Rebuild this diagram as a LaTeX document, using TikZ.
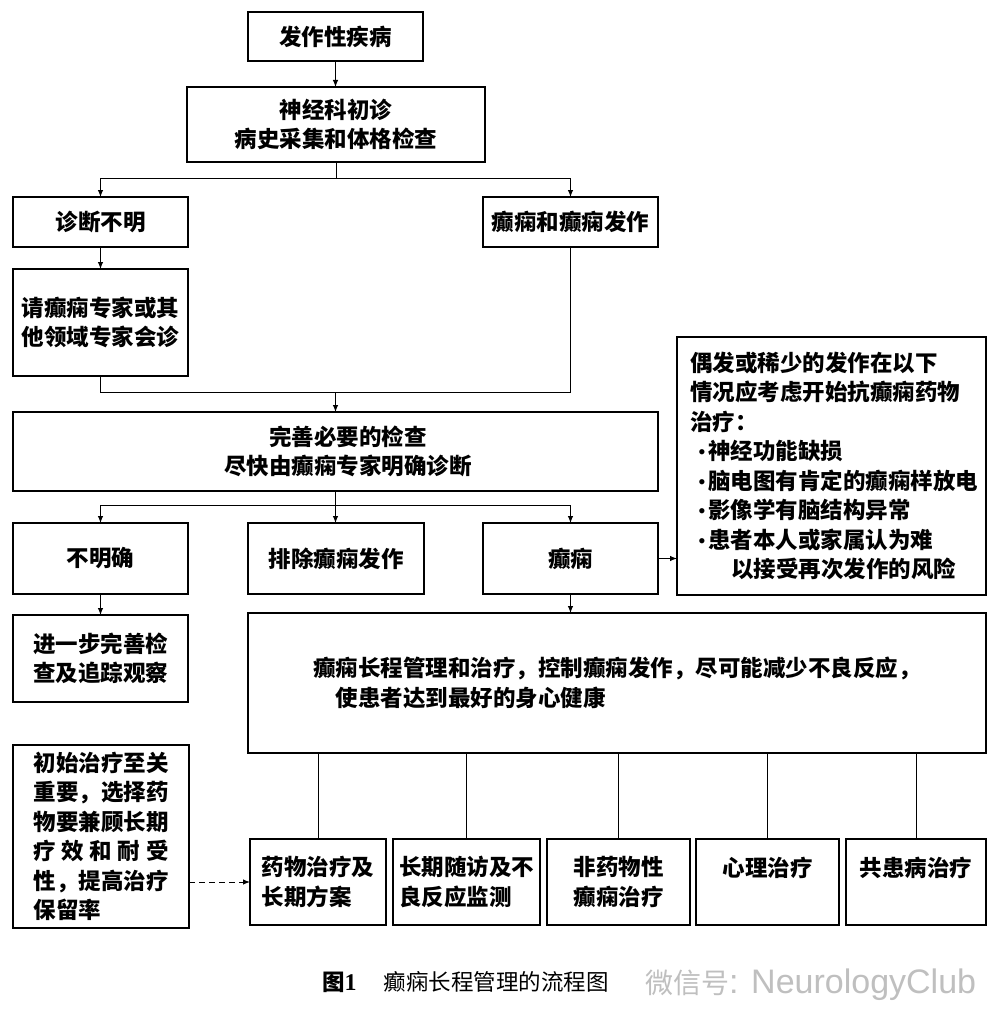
\documentclass[tikz,border=0pt]{standalone}
\usepackage{fontspec}
\setmainfont{Liberation Serif}
\newfontfamily\cjk{Noto Sans CJK SC}
\newfontfamily\wmfont{Liberation Sans}
\usetikzlibrary{arrows.meta,calc}
\begin{document}
\begin{tikzpicture}[x=1pt,y=-1pt,
  box/.style={draw, line width=1.4pt, inner sep=0pt, outer sep=0pt, anchor=north west,
    font=\cjk\bfseries\fontsize{22.5}{29.5}\selectfont, align=center},
  conn/.style={line width=1pt},
  arr/.style={conn, -{Latex[length=7pt,width=5.5pt]}},
]
\useasboundingbox[fill=white] (0,0) rectangle (997,1030);
\newcommand\bulx{\hspace*{8pt}\makebox[10pt][l]{\fontsize{22}{22}\selectfont\rmfamily\mdseries\textbullet}}
% row 1-2
\node[box, minimum width=175, minimum height=49] (n1) at (248,12) {发作性疾病};
\node[box, minimum width=298, minimum height=75] (n2) at (187,87) {神经科初诊\\病史采集和体格检查};
\node[box, minimum width=175, minimum height=50] (n3) at (13,197) {诊断不明};
\node[box, minimum width=175, minimum height=50] (n4) at (483,197) {癫痫和癫痫发作};
\node[box, minimum width=175, minimum height=107] (n5) at (13,269) {请癫痫专家或其\\他领域专家会诊};
\node[box, minimum width=645, minimum height=79] (n6) at (13,412) {\hspace*{25pt}完善必要的检查\\\hspace*{25pt}尽快由癫痫专家明确诊断};
\node[box, minimum width=175, minimum height=71] (n7) at (13,523) {不明确};
\node[box, minimum width=176, minimum height=71] (n8) at (248,523) {排除癫痫发作};
\node[box, minimum width=175, minimum height=71] (n9) at (483,523) {癫痫};
\node[box, minimum width=309, minimum height=258, align=left, text width=283] (n10) at (677,337)
  {偶发或稀少的发作在以下\\情况应考虑开始抗癫痫药物\\治疗：\\\bulx 神经功能缺损\\\bulx 脑电图有肯定的癫痫样放电\\\bulx 影像学有脑结构异常\\\bulx 患者本人或家属认为难\\\hspace*{41pt}以接受再次发作的风险};
\node[box, minimum width=175, minimum height=87] (n11) at (13,615) {进一步完善检\\查及追踪观察};
\node[box, minimum width=738, minimum height=140, align=left, text width=608] (n12) at (248,613)
  {癫痫长程管理和治疗，控制癫痫发作，尽可能减少不良反应，\\\hspace*{1em}使患者达到最好的身心健康};
\node[box, minimum width=176, minimum height=183, align=left] (n13) at (13,745)
  {初始治疗至关\\重要，选择药\\物要兼顾长期\\\makebox[6em][s]{疗\hfill 效\hfill 和\hfill 耐\hfill 受}\\性，提高治疗\\保留率};
\node[box, minimum width=136, minimum height=86, align=left] (b1) at (250,839) {药物治疗及\\长期方案};
\node[box, minimum width=147, minimum height=86, align=left] (b2) at (393,839) {长期随访及不\\良反应监测};
\node[box, minimum width=143, minimum height=86, align=left] (b3) at (547,839) {非药物性\\癫痫治疗};
\node[box, minimum width=143, minimum height=86] (b4) at (696,839) {心理治疗\\\phantom{心}};
\node[box, minimum width=140, minimum height=86] (b5) at (846,839) {共患病治疗\\\phantom{心}};
% connectors
\draw[arr] (n1.south) -- (n1.south |- n2.north);
\draw[arr] (n2.south) -- ++(0,16) -| (n3.north);
\draw[arr] (n2.south) -- ++(0,16) -| (n4.north);
\draw[arr] (n3) -- (n5);
\coordinate (m1) at (335.5,392);
\draw[conn] (n5.south) |- (m1);
\draw[conn] (n4.south) |- (m1);
\draw[arr] (m1) -- (n6.north);
\draw[arr] (n6.south) -- ++(0,14) -| (n7.north);
\draw[arr] (n6.south) -- ++(0,14) -| (n9.north);
\draw[arr] (n6.south) -- (n6.south |- n8.north);
\draw[arr] (n7) -- (n11);
\draw[arr] (n9.south) -- (n9.south |- n12.north);
\draw[arr] (n9.east) -- (n9.east -| n10.west);
\foreach \b in {b1,b2,b3,b4,b5} {\draw[conn] (\b.north) -- (\b.north |- n12.south);}
\draw[arr, dash pattern=on 6pt off 4pt] (n13.east |- b1.west) -- (b1.west);
% caption
\node[anchor=west, inner sep=0pt, font=\cjk\fontsize{22.5}{22.5}\selectfont] (cap) at (322,982)
  {{\bfseries 图}{\rmfamily\bfseries\fontsize{24}{24}\selectfont 1}\hspace{1.2em}癫痫长程管理的流程图};
\node[anchor=west, inner sep=0pt, text=black!25, font=\wmfont\fontsize{34}{34}\selectfont] (wm) at (645,985)
  {{\cjk\fontsize{28}{28}\selectfont 微信号}: NeurologyClub};
\end{tikzpicture}
\end{document}
